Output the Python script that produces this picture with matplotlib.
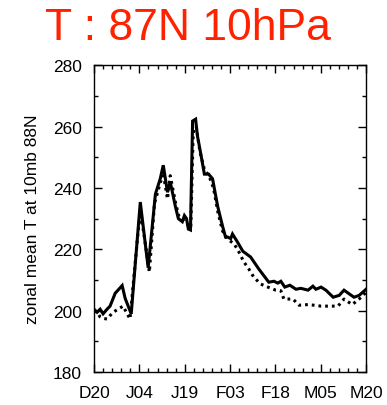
import matplotlib
matplotlib.use("Agg")
import matplotlib.pyplot as plt
from matplotlib.ticker import MultipleLocator

# days after Dec 20, temperatures (K)
days_solid = [0, 1, 2, 3, 4.3, 5.3, 7, 9.3, 10.3, 11.3, 12.3, 15.3, 17.9, 20.3, 21.9, 22.9,
              24.3, 25.2, 26.9, 27.9, 29.2, 29.9, 30.6, 31.2, 31.9, 32.6, 33.6, 34.2, 35.2,
              36.5, 37.9, 39.2, 40.9, 42.5, 43.5, 44.2, 45.2, 45.8, 47.5, 49.2, 51.8, 54.5,
              57.8, 59.5, 60.8, 61.8, 63.1, 64.8, 66.8, 68.4, 70.8, 72.4, 73.4, 75.1, 76.7,
              79.1, 81.1, 82.7, 84.4, 86, 87.7, 90]
t_solid = [200.5, 199.5, 200.5, 199, 200.5, 201.5, 205.7, 208.2, 204, 201.5, 199, 235.4, 214,
           238, 243, 247.4, 238.6, 242, 234, 230, 229, 231, 230, 226.6, 226.3, 261.8, 262.4,
           257, 251.7, 244.5, 244.5, 243, 234, 227.6, 224, 224, 223.5, 225, 222.3, 219.4,
           217.5, 213.6, 209.3, 209.6, 209, 209.6, 207.7, 208.3, 207, 207.3, 206.7, 208, 207,
           207.7, 206.7, 204.4, 205, 206.7, 205.5, 204.4, 205, 207]

days_dot = [0, 1, 2, 3, 4.3, 6.3, 9.6, 11.9, 14.5, 15.3, 16.5, 18.3, 20, 22, 23, 24.3, 25.2,
            27, 28, 29.5, 31, 32, 32.8, 33.8, 35, 36.5, 38, 39.5, 41, 42.5, 44, 46.4, 48,
            49.5, 51.2, 52.8, 55.1, 57.5, 60.1, 61.8, 62.8, 65.8, 67.8, 70.8, 72.7, 75.1,
            77.7, 80.7, 82.7, 85.4, 87.7, 90]
t_dot = [200, 199.5, 198, 197.5, 197.3, 199.5, 201.5, 197.3, 225, 232, 225, 212.6, 235, 242,
         244, 236.4, 244, 235, 231, 229.5, 228, 227, 258, 260, 252, 246, 244, 240, 232, 226,
         223.5, 221.7, 219, 216, 213.6, 211, 208.7, 207.7, 206.7, 206.5, 203.8, 203.8, 201.8,
         202, 201.8, 201.5, 201.5, 201.5, 203.8, 202, 203.8, 206]

tick_days = [0, 15, 30, 45, 60, 75, 90]
tick_labels = ["D20", "J04", "J19", "F03", "F18", "M05", "M20"]

plt.rcParams["font.family"] = ["Liberation Sans", "DejaVu Sans"]

fig = plt.figure(figsize=(3.87, 4.06), dpi=100)
ax = fig.add_axes([0.243, 0.081, 0.703, 0.756])

ax.plot(days_solid, t_solid, color="black", linewidth=2.2, solid_joinstyle="miter")
ax.plot(days_dot, t_dot, color="black", linewidth=2.2, linestyle=(0, (0.9, 1.3)),
        dash_capstyle="butt")

ax.set_xlim(0, 90)
ax.set_ylim(180, 280)
ax.set_xticks(tick_days)
ax.set_xticklabels(tick_labels)
ax.xaxis.set_minor_locator(MultipleLocator(3))
ax.set_yticks([180, 200, 220, 240, 260, 280])
ax.yaxis.set_minor_locator(MultipleLocator(10))
ax.tick_params(which="both", direction="in", top=True, right=True, labelsize=12.5, width=1)
ax.tick_params(which="major", length=6)
ax.tick_params(which="minor", length=3)
ax.tick_params(axis="y", pad=9)
ax.tick_params(axis="x", pad=9)
for s in ax.spines.values():
    s.set_linewidth(1)

ax.set_ylabel("zonal mean T at 10mb 88N", fontsize=12.5, labelpad=9)
fig.text(0.486, 0.93, "T : 87N 10hPa", color="#ff2200", fontsize=32, ha="center", va="center")

fig.savefig("out.png", dpi=100)
